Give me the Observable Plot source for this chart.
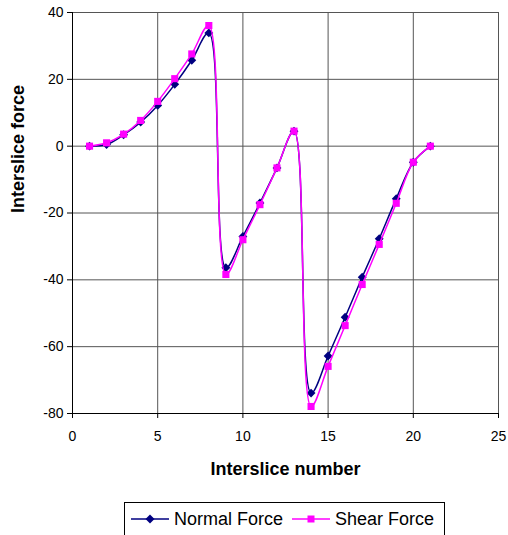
<!DOCTYPE html>
<html>
<head>
<meta charset="utf-8">
<script src="https://cdn.jsdelivr.net/npm/d3@7"></script>
<script src="https://cdn.jsdelivr.net/npm/@observablehq/plot@0.6"></script>
<style>
  html, body { margin: 0; padding: 0; background: #fff; }
  body { width: 508px; height: 535px; overflow: hidden; font-family: "Liberation Sans", Arial, sans-serif; }
  #legend {
    position: absolute; left: 124px; top: 502px; width: 321px; height: 34px;
    border: 1px solid #000; box-sizing: border-box; display: flex; align-items: center;
    font-size: 18px; color: #000; white-space: nowrap;
  }
  #legend .item { display: flex; align-items: center; }
  #legend svg { display: block; }
</style>
</head>
<body>
<div id="chart"></div>
<div id="legend"></div>
<script>
const sliceNumbers = [1,2,3,4,5,6,7,8,9,10,11,12,13,14,15,16,17,18,19,20,21];
const normalForce = [0,0.5,3.4,7.2,12.2,18.5,25.7,33.9,-36.4,-27,-17,-6.5,4.5,-73.9,-62.8,-51.2,-39.2,-27.7,-15.7,-4.8,0];
const shearForce  = [0,1.0,3.6,7.7,13.4,20.2,27.6,36.1,-38.4,-28,-17.5,-6.5,4.5,-77.9,-65.9,-53.7,-41.4,-29.4,-17.1,-4.8,0];
const xTicks = [0,5,10,15,20,25];
const yTicks = [-80,-60,-40,-20,0,20,40];
const seriesNames = ["Normal Force","Shear Force"];
const seriesColors = ["#000080","#FF00FF"];

const normalData = sliceNumbers.map((n,i)=>({n, v: normalForce[i]}));
const shearData = sliceNumbers.map((n,i)=>({n, v: shearForce[i]}));

const chart = Plot.plot({
  width: 508,
  height: 490,
  marginLeft: 72,
  marginRight: 10,
  marginTop: 12,
  marginBottom: 77,
  style: {fontFamily: "'Liberation Sans', Arial, sans-serif", fontSize: "14px", color: "#000", background: "#fff"},
  x: {domain: [0,25]},
  y: {domain: [-80,40]},
  marks: [
    Plot.gridX(xTicks, {stroke: "#555", strokeOpacity: 1, strokeWidth: 1}),
    Plot.gridY(yTicks, {stroke: "#555", strokeOpacity: 1, strokeWidth: 1}),
    Plot.ruleX([0], {stroke: "#000", strokeWidth: 1}),
    Plot.ruleY([-80], {stroke: "#000", strokeWidth: 1}),
    Plot.axisX(xTicks, {tickSize: 5, tickPadding: 13, fontSize: 14, label: null, stroke: "#000", tickFormat: d => String(d)}),
    Plot.axisY(yTicks, {tickSize: 5, tickPadding: 4, fontSize: 14, label: null, stroke: "#000", tickFormat: d => String(d)}),
    Plot.text(["Interslice number"], {frameAnchor: "bottom", dy: 61, fontSize: 18, fontWeight: "bold"}),
    Plot.text(["Interslice force"], {frameAnchor: "left", dx: -54, rotate: -90, fontSize: 18, fontWeight: "bold"}),
    Plot.line(normalData, {x: "n", y: "v", stroke: seriesColors[0], strokeWidth: 1.5, curve: "catmull-rom"}),
    Plot.dot(normalData, {x: "n", y: "v", symbol: "diamond2", r: 4, fill: seriesColors[0], stroke: "none"}),
    Plot.line(shearData, {x: "n", y: "v", stroke: seriesColors[1], strokeWidth: 1.5, curve: "catmull-rom"}),
    Plot.dot(shearData, {x: "n", y: "v", symbol: "square", r: 4, fill: seriesColors[1], stroke: "none"})
  ]
});
document.getElementById("chart").appendChild(chart);

// Legend
const legend = document.getElementById("legend");
const symbols = ["diamond","square"];
seriesNames.forEach((name, i) => {
  const item = document.createElement("div");
  item.className = "item";
  item.style.marginLeft = i === 0 ? "6px" : "9px";
  const ns = "http://www.w3.org/2000/svg";
  const svg = document.createElementNS(ns, "svg");
  svg.setAttribute("width", 38); svg.setAttribute("height", 14);
  const ln = document.createElementNS(ns, "line");
  ln.setAttribute("x1", 0); ln.setAttribute("x2", 38); ln.setAttribute("y1", 7); ln.setAttribute("y2", 7);
  ln.setAttribute("stroke", seriesColors[i]); ln.setAttribute("stroke-width", 1.5);
  svg.appendChild(ln);
  const mk = document.createElementNS(ns, "path");
  mk.setAttribute("d", symbols[i] === "diamond" ? "M19,2.5L23.5,7L19,11.5L14.5,7Z" : "M15.5,3.5H22.5V10.5H15.5Z");
  mk.setAttribute("fill", seriesColors[i]);
  svg.appendChild(mk);
  item.appendChild(svg);
  const t = document.createElement("span");
  t.textContent = name;
  t.style.marginLeft = "5px";
  item.appendChild(t);
  legend.appendChild(item);
});
</script>
</body>
</html>
